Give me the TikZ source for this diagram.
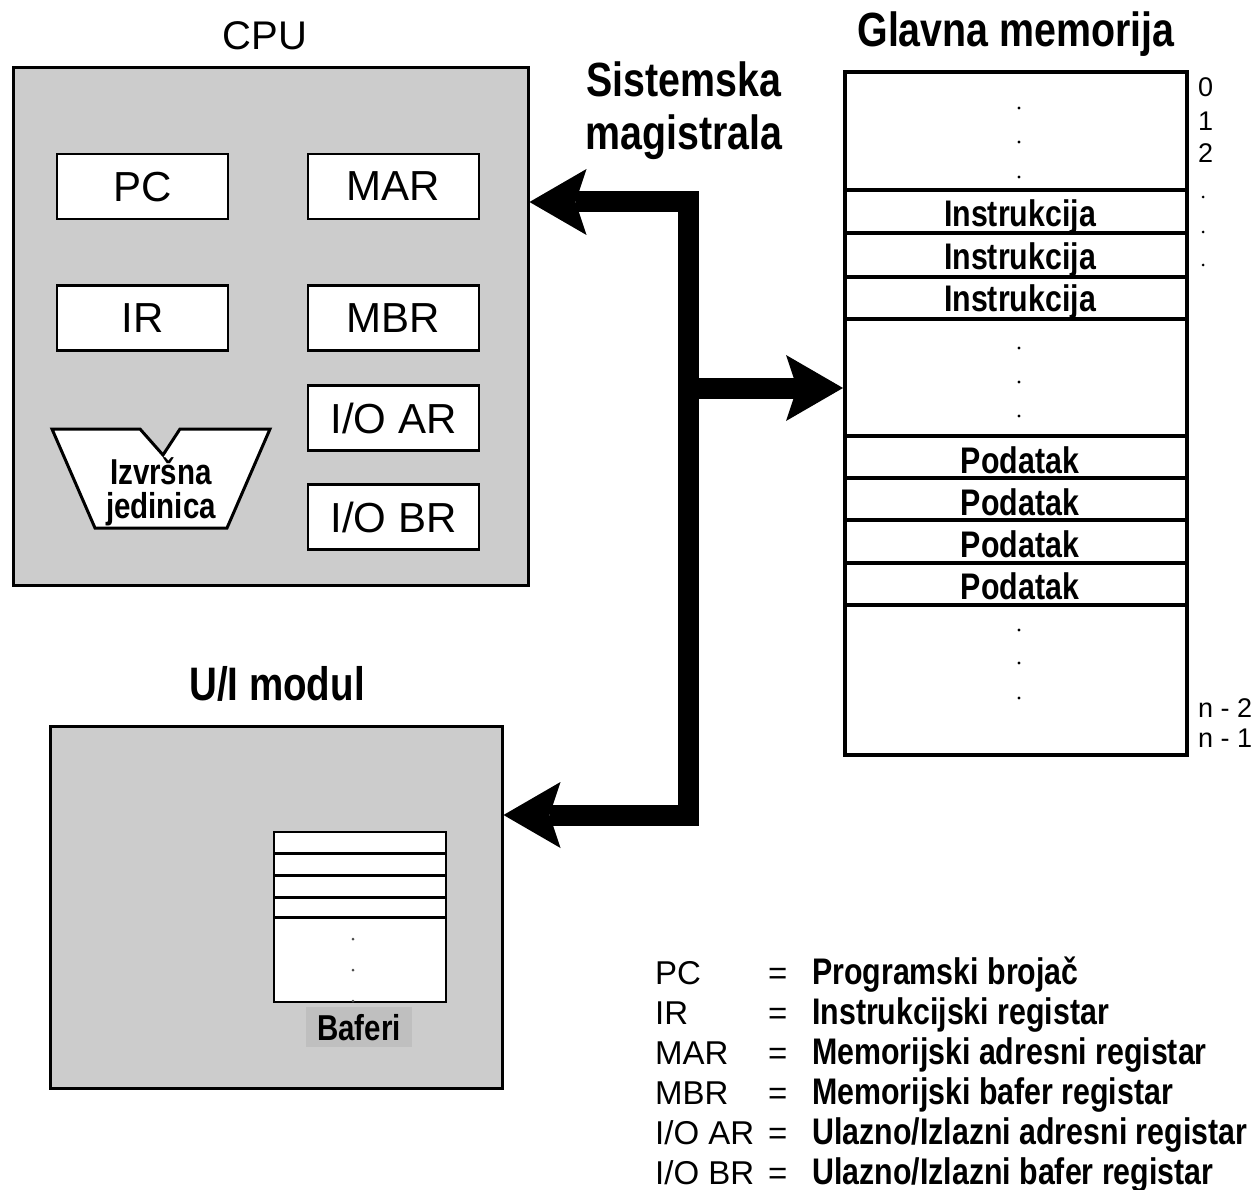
\documentclass[tikz,border=0pt]{standalone}
\usepackage{fontspec}
\setmainfont{Liberation Sans}
\newfontfamily\narrowfam[FakeStretch=0.82]{Liberation Sans}
\usetikzlibrary{arrows.meta}
\definecolor{panel}{HTML}{CCCCCC}
\definecolor{tagbg}{HTML}{BFBFBF}
\newcommand\boldnarrow{\narrowfam\bfseries}

\begin{document}
\begin{tikzpicture}[x=1pt,y=-1pt,
  >={Stealth[length=57pt,width=66pt,inset=11pt,line width=0pt]},
  unit/.style={draw=black,line width=3pt,fill=panel,inner sep=0pt},
  regbox/.style={draw=black,line width=2.5pt,fill=white,minimum width=171pt,
    minimum height=65pt,inner sep=0pt,text depth=0pt,font=\fontsize{42}{48}\selectfont},
  execshape/.style={draw=black,line width=3pt,fill=white,line join=miter},
  title/.style={anchor=base,inner sep=0pt,font=\boldnarrow\fontsize{48}{54}\selectfont},
  cell/.style={anchor=base,inner sep=0pt,font=\boldnarrow\fontsize{37}{40}\selectfont},
  memline/.style={line width=3.5pt},
  addr/.style={anchor=base west,inner sep=0pt,font=\fontsize{27}{30}\selectfont},
  abbr/.style={anchor=base west,inner sep=0pt,font=\fontsize{33}{36}\selectfont},
  desc/.style={anchor=base west,inner sep=0pt,font=\boldnarrow\fontsize{37}{40}\selectfont},
  bus/.style={draw=black,line width=21pt,line join=miter}]

\useasboundingbox (0,0) rectangle (1258,1190);

% ---------- CPU ----------
\node[unit,minimum width=515pt,minimum height=517pt] (cpu) at (270.5,326.5) {};
\node[anchor=base,inner sep=0pt,font=\fontsize{40}{44}\selectfont] (cputitle) at (265,50) {CPU};

\node[regbox] (pc)   at (142.5,186.5) {PC};
\node[regbox] (mar)  at (393.5,186.5) {MAR};
\node[regbox] (ir)   at (142.5,318)   {IR};
\node[regbox] (mbr)  at (393.5,318)   {MBR};
\node[regbox] (ioar) at (393.5,418)   {I/O AR};
\node[regbox] (iobr) at (393.5,517)   {I/O BR};

% execution unit outline with its V notch
\draw[execshape] (52,429) -- (140,429) -- (163,455) -- (180,429) -- (270,429)
  -- (227,528) -- (95,528) -- cycle;
\node[fill=white,inner xsep=4pt,inner ysep=0pt,align=center,
  font=\boldnarrow\fontsize{36}{34}\selectfont] (exec) at (161,492) {Izvršna\\jedinica};

% ---------- system bus title ----------
\node[title] (bus1) at (684,97) {Sistemska};
\node[title] (bus2) at (684,150) {magistrala};

% ---------- main memory ----------
\node[title] (memtitle) at (1016,47) {Glavna memorija};
\node[draw=black,line width=4pt,fill=white,minimum width=342pt,minimum height=683pt,
  inner sep=0pt] (mem) at (1016,413.5) {};
\foreach \y in {190,233,277,319,436,478,520,563,605}
  \draw[memline] (845,\y) -- (1187,\y);

\node[cell] (ins1) at (1020,227) {Instrukcija};
\node[cell] (ins2) at (1020,270) {Instrukcija};
\node[cell] (ins3) at (1020,312) {Instrukcija};
\node[cell] (dat1) at (1020,473) {Podatak};
\node[cell] (dat2) at (1020,515) {Podatak};
\node[cell] (dat3) at (1020,557) {Podatak};
\node[cell] (dat4) at (1020,599) {Podatak};

\foreach \y in {108,142,177,348,382,416,630,663,698}
  \fill (1019,\y) circle (1.6);

% addresses
\node[addr] (a0) at (1198,97)  {0};
\node[addr] (a1) at (1198,131) {1};
\node[addr] (a2) at (1198,163) {2};
\foreach \y in {197,232,265}
  \fill (1203,\y) circle (1.5);
\node[addr] (an2) at (1198,717) {n - 2};
\node[addr] (an1) at (1198,747) {n - 1};

% ---------- I/O module ----------
\node[title,font=\boldnarrow\fontsize{47}{52}\selectfont] (iotitle) at (277,700) {U/I modul};
\node[unit,minimum width=452pt,minimum height=362pt] (io) at (276,907) {};

\node[draw=black,line width=2.5pt,fill=white,minimum width=172pt,minimum height=170pt,
  inner sep=0pt] (bufs) at (360,917) {};
\foreach \y in {853,875,897,917}
  \draw[line width=3pt] (274,\y) -- (446,\y);
\foreach \y in {939,970,1001}
  \fill[black!70] (353,\y) circle (1.5);
\node[fill=tagbg,minimum width=106pt,minimum height=40pt,inner sep=0pt,text depth=0pt,
  font=\boldnarrow\fontsize{36}{40}\selectfont] (baferi) at (359,1027) {Baferi};

% ---------- bus connectors ----------
\coordinate (bt) at (688.5,202);
\coordinate (bm) at (688.5,388);
\coordinate (bb) at (688.5,815);
\draw[bus,<->] (cpu.east |- bt) -- (bt) -- (bb) -- (io.east |- bb);
\draw[bus,->] (bm) -- (mem.west |- bm);

% ---------- legend ----------
\foreach \ab/\tx [count=\i from 0] in {PC/Programski brojač,IR/Instrukcijski registar,
    MAR/Memorijski adresni registar,MBR/Memorijski bafer registar,
    I\slash O AR/Ulazno\slash Izlazni adresni registar,I\slash O BR/Ulazno\slash Izlazni bafer registar}{
  \node[abbr] (ab\i) at (655,984+40*\i) {\ab};
  \node[abbr] (eq\i) at (768,984+40*\i) {=};
  \node[desc] (tx\i) at (812,984+40*\i) {\tx};
}
\end{tikzpicture}
\end{document}
